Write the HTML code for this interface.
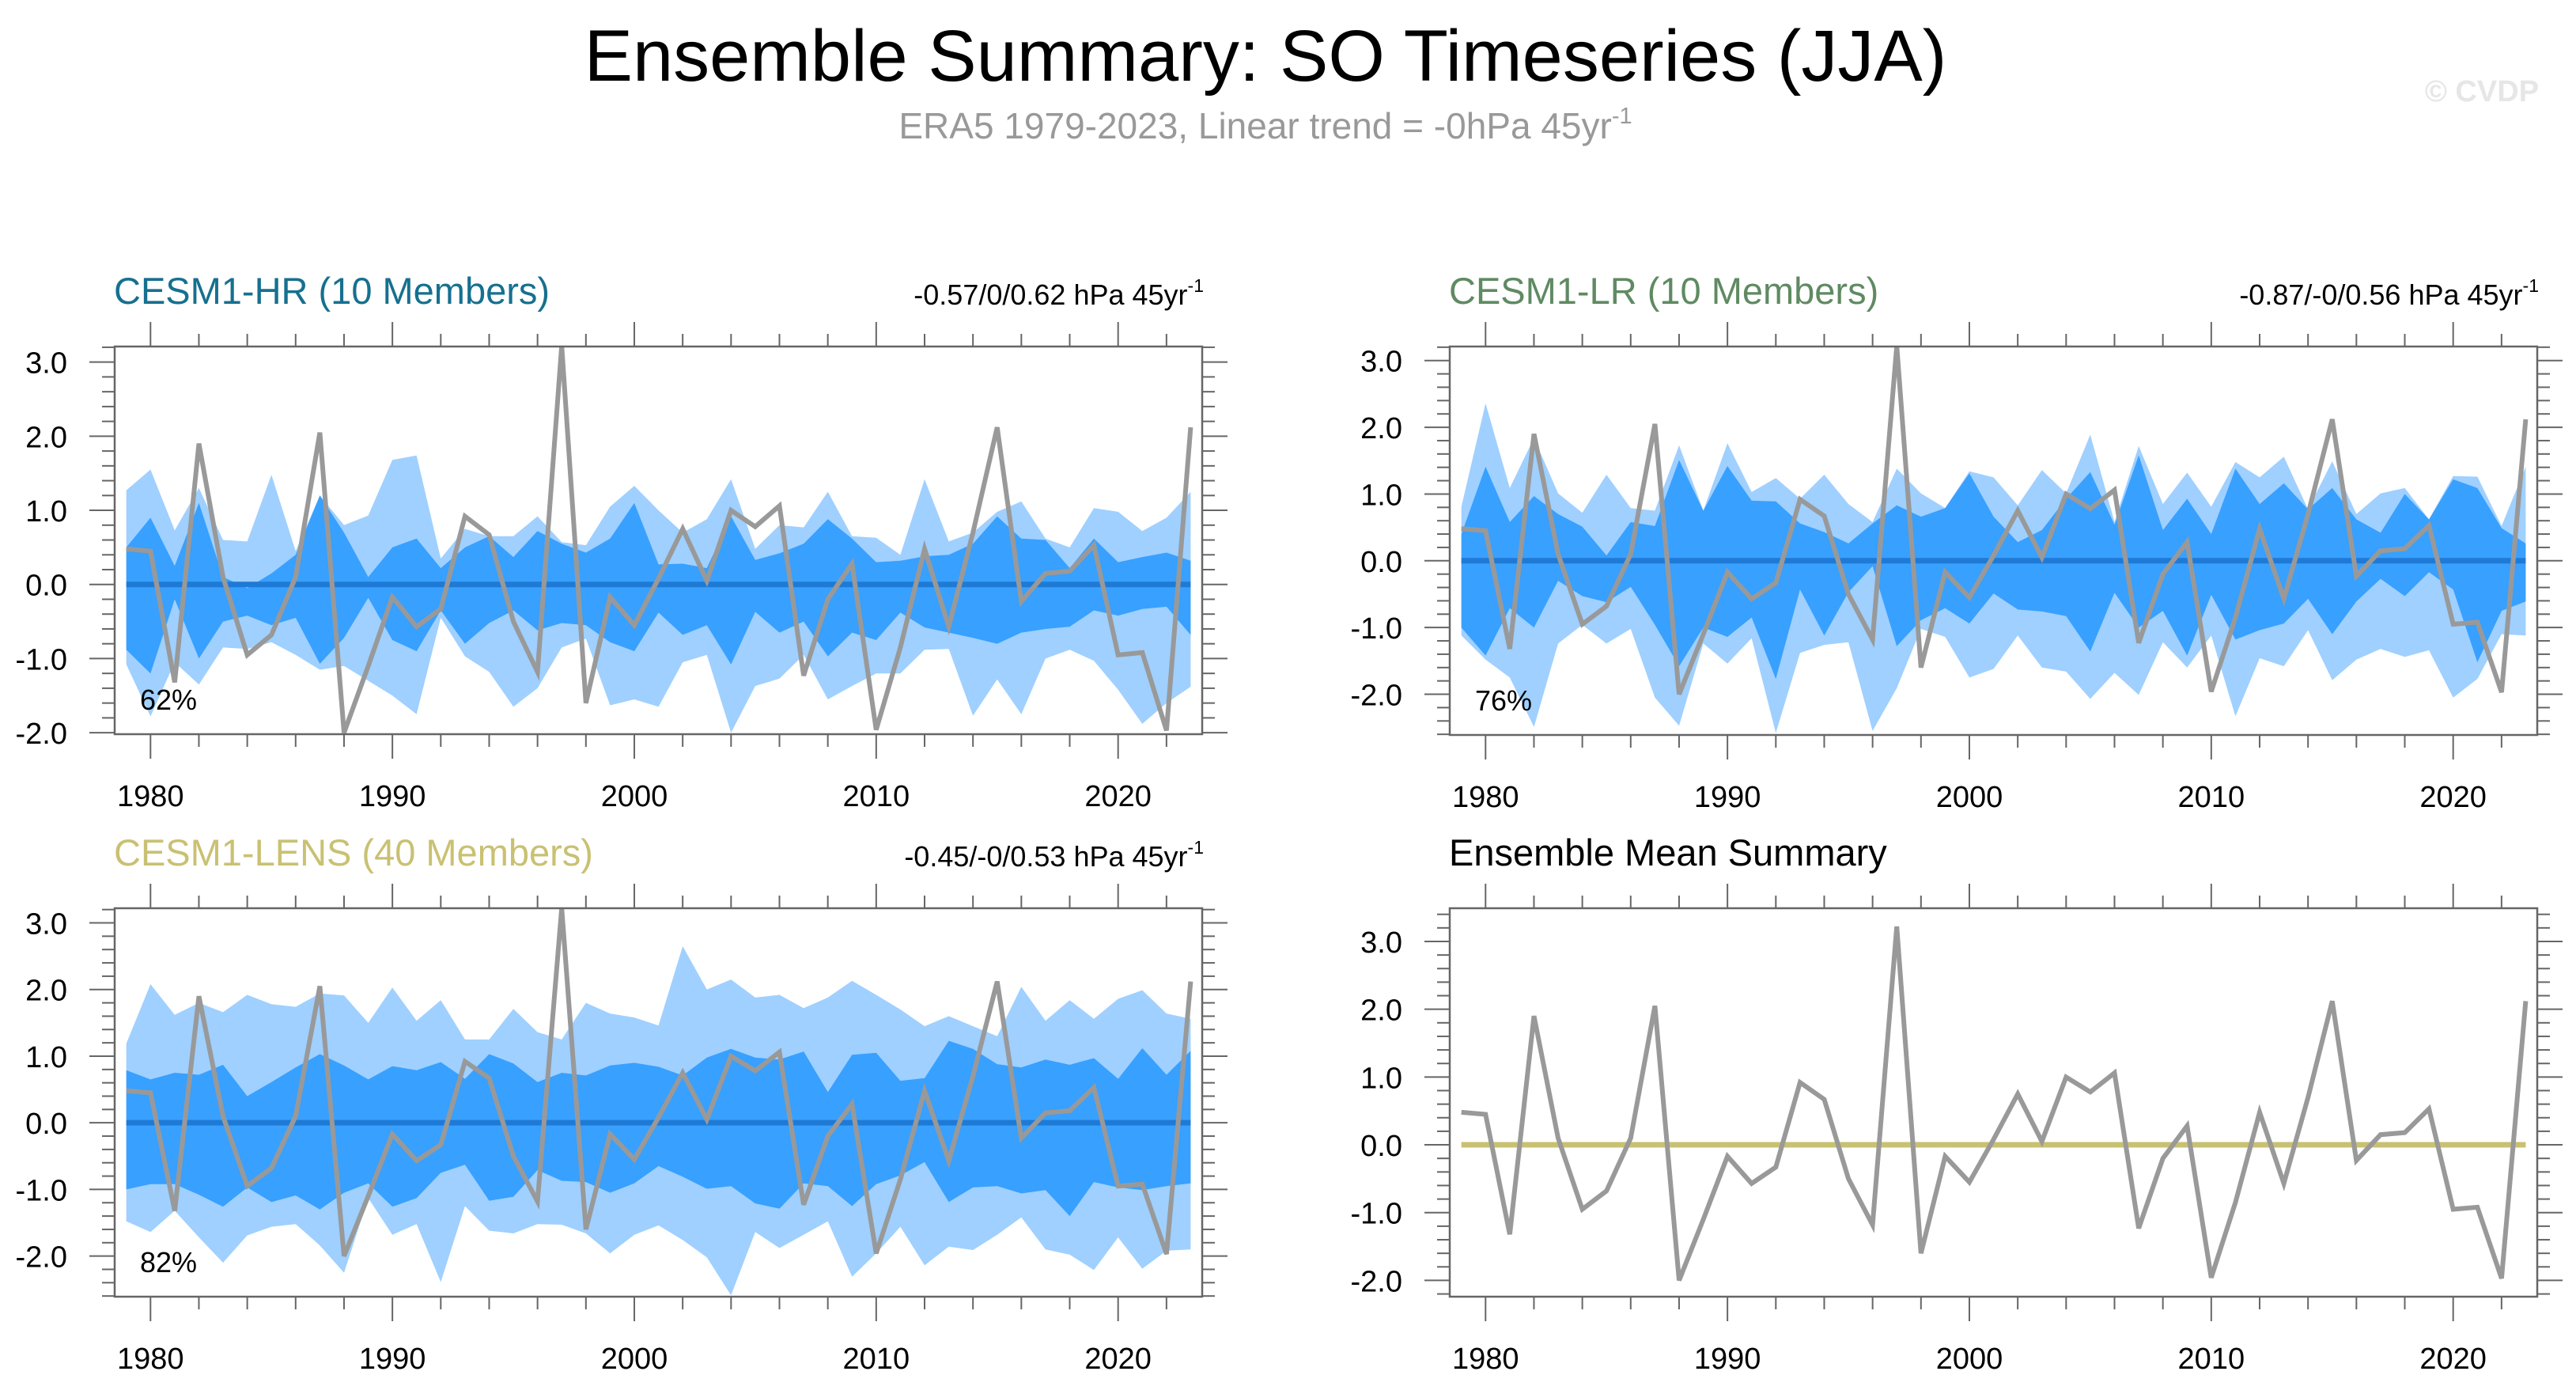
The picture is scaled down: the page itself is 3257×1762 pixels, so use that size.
<!DOCTYPE html>
<html><head><meta charset="utf-8">
<style>
html,body{margin:0;padding:0;background:#fff;}
svg{display:block;font-family:"Liberation Sans",Arial,sans-serif;}
</style></head>
<body>
<svg id="fig" width="3257" height="1762" viewBox="0 0 3257 1762" xmlns="http://www.w3.org/2000/svg">
<rect width="3257" height="1762" fill="#fff"/>
<text x="1600" y="102" font-size="92" text-anchor="middle" fill="#000">Ensemble Summary: SO Timeseries (JJA)</text>
<text x="1600" y="175" font-size="46" text-anchor="middle" fill="#999">ERA5 1979-2023, Linear trend = -0hPa 45yr<tspan font-size="29" dy="-19">-1</tspan></text>
<text x="3210" y="128" font-size="38" font-weight="bold" text-anchor="end" fill="#e6e6e6">© CVDP</text>
<g id="panels"></g>
</svg>
<script>
const years = [];
for (let y = 1979; y <= 2023; y++) years.push(y);
const obs = [0.48,0.45,-1.32,1.9,0.1,-0.95,-0.68,0.1,2.05,-2.0,-1.1,-0.17,-0.57,-0.33,0.92,0.67,-0.5,-1.18,3.22,-1.6,-0.17,-0.55,0.08,0.75,0.05,1.0,0.78,1.06,-1.23,-0.2,0.28,-1.96,-0.85,0.48,-0.57,0.7,2.12,-0.23,0.15,0.18,0.53,-0.95,-0.92,-1.97,2.12];
const hrOuterHi = [1.27,1.55,0.73,1.3,0.6,0.58,1.48,0.45,1.2,0.8,0.93,1.68,1.74,0.35,0.75,0.65,0.65,0.92,0.57,0.53,1.05,1.33,1.0,0.7,0.88,1.42,0.48,0.8,0.77,1.25,0.65,0.63,0.4,1.42,0.58,0.7,0.98,1.12,0.62,0.5,1.03,0.98,0.72,0.9,1.25];
const hrInnerHi = [0.5,0.9,0.25,1.1,0.1,-0.05,0.15,0.4,1.2,0.7,0.1,0.5,0.62,0.22,0.5,0.65,0.37,0.72,0.55,0.43,0.62,1.1,0.27,0.28,0.22,0.92,0.33,0.42,0.55,0.88,0.62,0.3,0.32,0.38,0.4,0.55,0.92,0.62,0.6,0.22,0.62,0.3,0.37,0.43,0.32];
const hrInnerLo = [-0.88,-1.2,-0.2,-1.0,-0.5,-0.42,-0.55,-0.45,-1.07,-0.72,-0.18,-0.75,-0.9,-0.35,-0.8,-0.52,-0.35,-0.62,-0.52,-0.55,-0.78,-0.9,-0.38,-0.68,-0.55,-1.08,-0.37,-0.65,-0.5,-0.97,-0.65,-0.75,-0.38,-0.58,-0.65,-0.72,-0.8,-0.65,-0.6,-0.57,-0.35,-0.42,-0.33,-0.3,-0.68];
const hrOuterLo = [-1.08,-1.78,-1.05,-1.35,-0.85,-0.87,-0.78,-0.95,-1.15,-1.1,-1.3,-1.5,-1.75,-0.45,-0.97,-1.18,-1.65,-1.4,-0.85,-0.73,-1.63,-1.55,-1.65,-1.05,-0.95,-2.0,-1.37,-1.27,-0.95,-1.55,-1.37,-1.2,-1.2,-0.88,-0.87,-1.77,-1.28,-1.75,-1.0,-0.88,-1.03,-1.42,-1.88,-1.6,-1.38];
const lrOuterHi = [0.81,2.36,1.09,1.84,1.01,0.72,1.29,0.79,0.75,1.73,0.75,1.76,1.03,1.24,0.93,1.29,0.85,0.58,1.38,1.01,0.79,1.34,1.25,0.83,1.36,1.01,1.89,0.58,1.72,0.85,1.32,0.81,1.48,1.25,1.56,0.77,1.49,0.7,1.01,1.09,0.62,1.27,1.26,0.52,1.41];
const lrInnerHi = [0.4,1.41,0.58,0.97,0.7,0.51,0.08,0.58,0.52,1.51,0.75,1.42,0.9,0.89,0.56,0.43,0.26,0.56,0.83,0.66,0.79,1.31,0.66,0.28,0.46,0.93,1.33,0.54,1.58,0.46,0.93,0.4,1.38,0.85,1.16,0.77,1.09,0.62,0.42,1.0,0.62,1.22,1.09,0.49,0.26];
const lrInnerLo = [-1.0,-1.42,-0.71,-1.0,-0.3,-0.53,-0.62,-0.39,-0.96,-1.58,-1.0,-1.14,-0.85,-1.77,-0.43,-1.12,-0.47,-0.08,-1.28,-0.89,-0.71,-0.94,-0.49,-0.73,-0.76,-0.83,-1.36,-0.48,-1.0,-0.75,-1.42,-0.51,-1.18,-1.04,-0.94,-0.57,-1.1,-0.61,-0.27,-0.53,-0.17,-0.43,-1.52,-0.75,-0.61];
const lrOuterLo = [-1.12,-1.48,-1.75,-2.49,-1.24,-0.96,-1.24,-1.02,-2.05,-2.47,-1.24,-1.54,-1.16,-2.58,-1.38,-1.26,-1.22,-2.55,-1.91,-1.02,-1.14,-1.75,-1.62,-1.12,-1.6,-1.66,-2.07,-1.68,-2.01,-1.22,-1.6,-1.12,-2.33,-1.46,-1.58,-1.04,-1.79,-1.48,-1.32,-1.44,-1.34,-2.05,-1.77,-1.1,-1.12];
const lensOuterHi = [1.19,2.08,1.62,1.8,1.66,1.92,1.78,1.74,1.94,1.91,1.5,2.03,1.53,1.84,1.25,1.25,1.71,1.36,1.25,1.8,1.64,1.58,1.46,2.65,2.0,2.15,1.88,1.92,1.72,1.88,2.13,1.92,1.7,1.45,1.6,1.45,1.3,2.04,1.53,1.84,1.56,1.86,1.99,1.64,1.56];
const lensInnerHi = [0.79,0.65,0.75,0.72,0.87,0.4,0.61,0.83,1.03,0.86,0.65,0.85,0.79,0.91,0.66,1.03,0.89,0.61,0.75,0.71,0.86,0.9,0.84,0.71,0.98,1.11,0.98,0.95,1.07,0.46,1.02,1.05,0.63,0.67,1.23,1.11,0.88,0.83,0.95,0.87,0.97,0.66,1.12,0.72,1.08];
const lensInnerLo = [-1.0,-0.92,-0.92,-1.08,-1.26,-0.97,-1.19,-1.09,-1.3,-1.05,-0.91,-1.26,-1.13,-0.75,-0.63,-1.17,-1.11,-0.71,-0.87,-0.89,-1.05,-0.91,-0.65,-0.81,-0.99,-0.95,-1.21,-1.29,-0.91,-0.95,-1.25,-0.92,-0.79,-0.59,-1.19,-0.97,-0.95,-1.06,-1.01,-1.4,-0.89,-0.97,-1.01,-0.95,-0.91];
const lensOuterLo = [-1.48,-1.64,-1.32,-1.72,-2.1,-1.69,-1.56,-1.52,-1.84,-2.25,-1.13,-1.68,-1.52,-2.39,-1.25,-1.62,-1.66,-1.52,-1.53,-1.66,-1.96,-1.68,-1.54,-1.76,-2.02,-2.59,-1.64,-1.88,-1.68,-1.48,-2.31,-1.96,-1.56,-2.14,-1.86,-1.91,-1.68,-1.42,-1.9,-1.98,-2.21,-1.72,-2.19,-1.92,-1.9];
const yTickValues = [-2, -1, 0, 1, 2, 3];
const yTickLabels = ["-2.0", "-1.0", "0.0", "1.0", "2.0", "3.0"];
const xTickValues = [1980, 1990, 2000, 2010, 2020];
const xTickLabels = ["1980", "1990", "2000", "2010", "2020"];

const NS = "http://www.w3.org/2000/svg";
const root = document.getElementById("panels");
function mk(tag, attrs, parent) {
  const e = document.createElementNS(NS, tag);
  for (const k in attrs) e.setAttribute(k, attrs[k]);
  parent.appendChild(e);
  return e;
}

const panels = [
  {key:"hr", x0:145, x1:1520, y0:438, y1:928, ymin:-2.02, ymax:3.21, title:"CESM1-HR (10 Members)", tcol:"#16708f", trend:"-0.57/0/0.62 hPa 45yr", pct:"62%", bands:[hrOuterHi,hrInnerHi,hrInnerLo,hrOuterLo], zero:"#1f7ad6"},
  {key:"lr", x0:1833, x1:3208, y0:438, y1:929, ymin:-2.61, ymax:3.21, title:"CESM1-LR (10 Members)", tcol:"#5f8a62", trend:"-0.87/-0/0.56 hPa 45yr", pct:"76%", bands:[lrOuterHi,lrInnerHi,lrInnerLo,lrOuterLo], zero:"#1f7ad6"},
  {key:"lens", x0:145, x1:1520, y0:1148, y1:1639, ymin:-2.61, ymax:3.22, title:"CESM1-LENS (40 Members)", tcol:"#c9c172", trend:"-0.45/-0/0.53 hPa 45yr", pct:"82%", bands:[lensOuterHi,lensInnerHi,lensInnerLo,lensOuterLo], zero:"#1f7ad6"},
  {key:"mean", x0:1833, x1:3208, y0:1148, y1:1639, ymin:-2.24, ymax:3.49, title:"Ensemble Mean Summary", tcol:"#000", trend:null, pct:null, bands:null, zero:"#c9c172"}
];

panels.forEach(p => {
  const g = mk("g", {}, root);
  
  
  const xs = yr => p.x0 + 14.7 + 30.585 * (yr - 1979);
  const ys = v => p.y0 + (p.ymax - v) / (p.ymax - p.ymin) * (p.y1 - p.y0);

  if (p.bands) {
    const [oh, ih, il, ol] = p.bands;
    const poly = (hi, lo, fill, name) => {
      let d = "M" + years.map((y, i) => xs(y).toFixed(1) + "," + ys(hi[i]).toFixed(1)).join(" L");
      for (let i = years.length - 1; i >= 0; i--) d += " L" + xs(years[i]).toFixed(1) + "," + ys(lo[i]).toFixed(1);
      d += " Z";
      const e = mk("path", {d: d, fill: fill, stroke: "none"}, g);
      
      
    };
    poly(oh, ol, "#9fd0ff", p.key + "-outer-spread-band");
    poly(ih, il, "#38a0ff", p.key + "-inner-spread-band");
  }
  const zl = mk("line", {x1: xs(1979), x2: xs(2023), y1: ys(0), y2: ys(0), stroke: p.zero, "stroke-width": 7}, g);
  
  
  const ol2 = mk("polyline", {points: years.map((y, i) => xs(y).toFixed(1) + "," + ys(obs[i]).toFixed(1)).join(" "), fill: "none", stroke: "#999", "stroke-width": 6, "stroke-linejoin": "miter"}, g);
  
  

  const fr = mk("rect", {x: p.x0, y: p.y0, width: p.x1 - p.x0, height: p.y1 - p.y0, fill: "none", stroke: "#666", "stroke-width": 2.5}, g);
  
  

  const ax = mk("g", {stroke: "#666", "stroke-width": 2}, g);
  
  
  for (let k = Math.ceil(p.ymin * 5); k <= Math.floor(p.ymax * 5); k++) {
    const v = k / 5, y = ys(v), major = (k % 5 === 0);
    const len = major ? 32 : 16;
    mk("line", {x1: p.x0 - len, x2: p.x0, y1: y, y2: y}, ax);
    mk("line", {x1: p.x1, x2: p.x1 + len, y1: y, y2: y}, ax);
  }
  for (let yr = 1980; yr <= 2022; yr += 2) {
    const x = xs(yr), major = (yr % 10 === 0);
    const len = major ? 31 : 16;
    mk("line", {x1: x, x2: x, y1: p.y0 - len, y2: p.y0}, ax);
    mk("line", {x1: x, x2: x, y1: p.y1, y2: p.y1 + len}, ax);
  }
  yTickValues.forEach((v, i) => {
    const t = mk("text", {x: p.x0 - 60, y: ys(v) + 14, "font-size": 38, "text-anchor": "end", fill: "#000"}, g);
    t.textContent = yTickLabels[i];
    
    
  });
  xTickValues.forEach((v, i) => {
    const t = mk("text", {x: xs(v), y: p.y1 + 91, "font-size": 38, "text-anchor": "middle", fill: "#000"}, g);
    t.textContent = xTickLabels[i];
    
    
  });
  const tt = mk("text", {x: p.x0 - 1, y: p.y0 - 54, "font-size": 47, fill: p.tcol}, g);
  tt.textContent = p.title;
  
  
  if (p.trend) {
    const tr = mk("text", {x: p.x1 + 2, y: p.y0 - 53, "font-size": 36, "text-anchor": "end", fill: "#000"}, g);
    tr.textContent = p.trend;
    const sup = mk("tspan", {"font-size": 23, dy: -16}, tr);
    sup.textContent = "-1";
    
    
  }
  if (p.pct) {
    const pc = mk("text", {x: p.x0 + 32, y: p.y1 - 31, "font-size": 36, fill: "#000"}, g);
    pc.textContent = p.pct;
    
    
  }
});
</script>
</body></html>
